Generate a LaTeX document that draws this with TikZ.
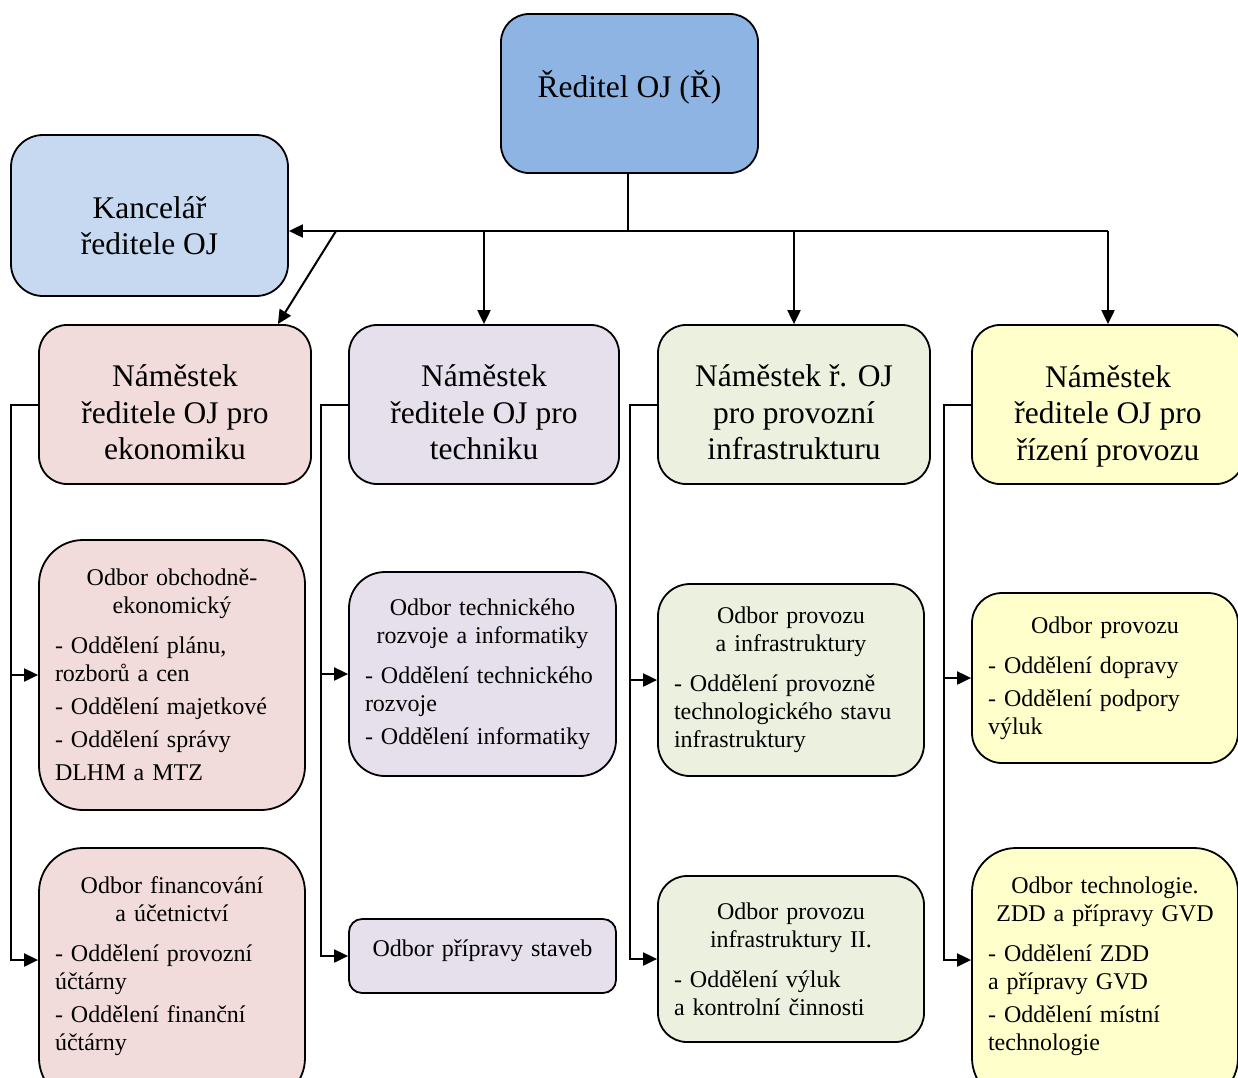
\documentclass[tikz,border=0pt]{standalone}
\usepackage{fontspec}
\setmainfont{Liberation Serif}
\usetikzlibrary{arrows.meta,calc}

\definecolor{cReditel}{HTML}{8DB4E2}
\definecolor{cKancelar}{HTML}{C6D9F1}
\definecolor{cEko}{HTML}{F2DCDB}
\definecolor{cTech}{HTML}{E5E0EC}
\definecolor{cInfra}{HTML}{EBF1DE}
\definecolor{cRizeni}{HTML}{FFFFCC}

% centred heading of a department box, the list of sections follows left aligned
\newcommand{\nadpis}[1]{{\centering #1\par}\vspace{12pt}}

\begin{document}
\begin{tikzpicture}[x=1pt,y=-1pt,>={Triangle[length=14pt,width=13pt]},
  box/.style={draw,line width=1.8pt,inner sep=0pt,align=center},
  velka/.style={box,font=\fontsize{31.5}{36.5}\selectfont},
  odbor/.style={box,inner xsep=16pt,align=left,font=\fontsize{24}{28}\selectfont},
  spoj/.style={line width=2pt},
  pijl/.style={spoj,->}]
  \useasboundingbox (0,0) rectangle (1238,1077);
  \clip (0,0) rectangle (1238,1077);
  % director and his office (struts only move the text inside the box)
  \node[velka,fill=cReditel,minimum width=257pt,minimum height=159pt,rounded corners=28pt]
    (reditel) at (629.5,93.5) {Ředitel OJ (Ř)\rule[-19pt]{0pt}{19pt}};
  \node[velka,fill=cKancelar,minimum width=277pt,minimum height=161pt,rounded corners=32pt]
    (kancelar) at (149.5,215.5) {\rule{0pt}{42pt}Kancelář\\ředitele OJ};
  % the four deputies
  \node[velka,fill=cEko,minimum width=272pt,minimum height=159pt,rounded corners=28pt]
    (nEko) at (175,404.5) {\rule{0pt}{38pt}Náměstek\\ředitele OJ pro\\ekonomiku};
  \node[velka,fill=cTech,minimum width=270pt,minimum height=159pt,rounded corners=28pt]
    (nTech) at (484,404.5) {\rule{0pt}{38pt}Náměstek\\ředitele OJ pro\\techniku};
  \node[velka,fill=cInfra,minimum width=272pt,minimum height=159pt,rounded corners=28pt]
    (nInfra) at (794,404.5) {\rule{0pt}{38pt}Náměstek ř. OJ\\pro provozní\\infrastrukturu};
  \node[velka,fill=cRizeni,minimum width=272pt,minimum height=159pt,rounded corners=28pt]
    (nRizeni) at (1108,404.5) {\rule{0pt}{45pt}Náměstek\\ředitele OJ pro\\řízení provozu};
  % departments, first column
  \node[odbor,fill=cEko,text width=234pt,minimum height=270pt,rounded corners=44pt]
    (eko1) at (172,675) {\nadpis{Odbor obchodně-\\ekonomický}
    - Oddělení plánu,\\rozborů a cen\\[5pt]- Oddělení majetkové\\[5pt]- Oddělení správy\\[5pt]DLHM a MTZ};
  \node[odbor,fill=cEko,text width=234pt,minimum height=254pt,rounded corners=44pt]
    (eko2) at (172,975) {\nadpis{Odbor financování\\a účetnictví}
    - Oddělení provozní\\účtárny\\[5pt]- Oddělení finanční\\účtárny\rule[-23pt]{0pt}{23pt}};
  % second column
  \node[odbor,fill=cTech,text width=235pt,minimum height=204pt,rounded corners=36pt]
    (tech1) at (482.5,674) {\nadpis{Odbor technického\\rozvoje a informatiky}
    - Oddělení technického\\rozvoje\\[5pt]- Oddělení informatiky};
  \node[odbor,fill=cTech,text width=235pt,minimum height=74pt,rounded corners=13pt,align=center]
    (tech2) at (482.5,956) {Odbor přípravy staveb\rule[-16pt]{0pt}{16pt}};
  % third column
  \node[odbor,fill=cInfra,text width=234pt,minimum height=192pt,rounded corners=32pt]
    (infra1) at (791,680) {\nadpis{Odbor provozu\\a infrastruktury}
    - Oddělení provozně\\technologického stavu\\infrastruktury};
  \node[odbor,fill=cInfra,text width=234pt,minimum height=166pt,rounded corners=29pt]
    (infra2) at (791,959) {\nadpis{Odbor provozu\\infrastruktury II.}
    - Oddělení výluk\\a kontrolní činnosti};
  % fourth column
  \node[odbor,fill=cRizeni,text width=234pt,minimum height=170pt,rounded corners=30pt]
    (rizeni1) at (1105,678) {\nadpis{Odbor provozu}
    - Oddělení dopravy\\[5pt]- Oddělení podpory\\výluk};
  \node[odbor,fill=cRizeni,text width=234pt,minimum height=254pt,rounded corners=44pt]
    (rizeni2) at (1105,975) {\nadpis{Odbor technologie.\\ZDD a přípravy GVD}
    - Oddělení ZDD\\a přípravy GVD\\[5pt]- Oddělení místní\\technologie\rule[-23pt]{0pt}{23pt}};
  % bus below the director
  \coordinate (bus) at (628,231);
  \coordinate (knik) at (336,231);
  \draw[spoj] (reditel.south -| bus) -- (bus);
  \draw[pijl] (nRizeni.north |- bus) -- (kancelar.east |- bus);
  \draw[pijl] (nRizeni.north |- bus) -- (nRizeni.north);
  \draw[pijl] (nInfra.north |- bus) -- (nInfra.north);
  \draw[pijl] (nTech.north |- bus) -- (nTech.north);
  \draw[pijl] (knik) -- ([xshift=-34pt]nEko.north east);
  % each deputy feeds his two departments along the left side
  \foreach \n/\a/\b/\s in {nEko/eko1/eko2/15,nTech/tech1/tech2/0,
                           nInfra/infra1/infra2/0,nRizeni/rizeni1/rizeni2/15} {
    \draw[pijl] (\n.west) -- ++(-27,0) |- (\a.west);
    \draw[pijl] (\n.west) -- ++(-27,0) |- ([yshift=\s pt]\b.west);
  }
\end{tikzpicture}
\end{document}
